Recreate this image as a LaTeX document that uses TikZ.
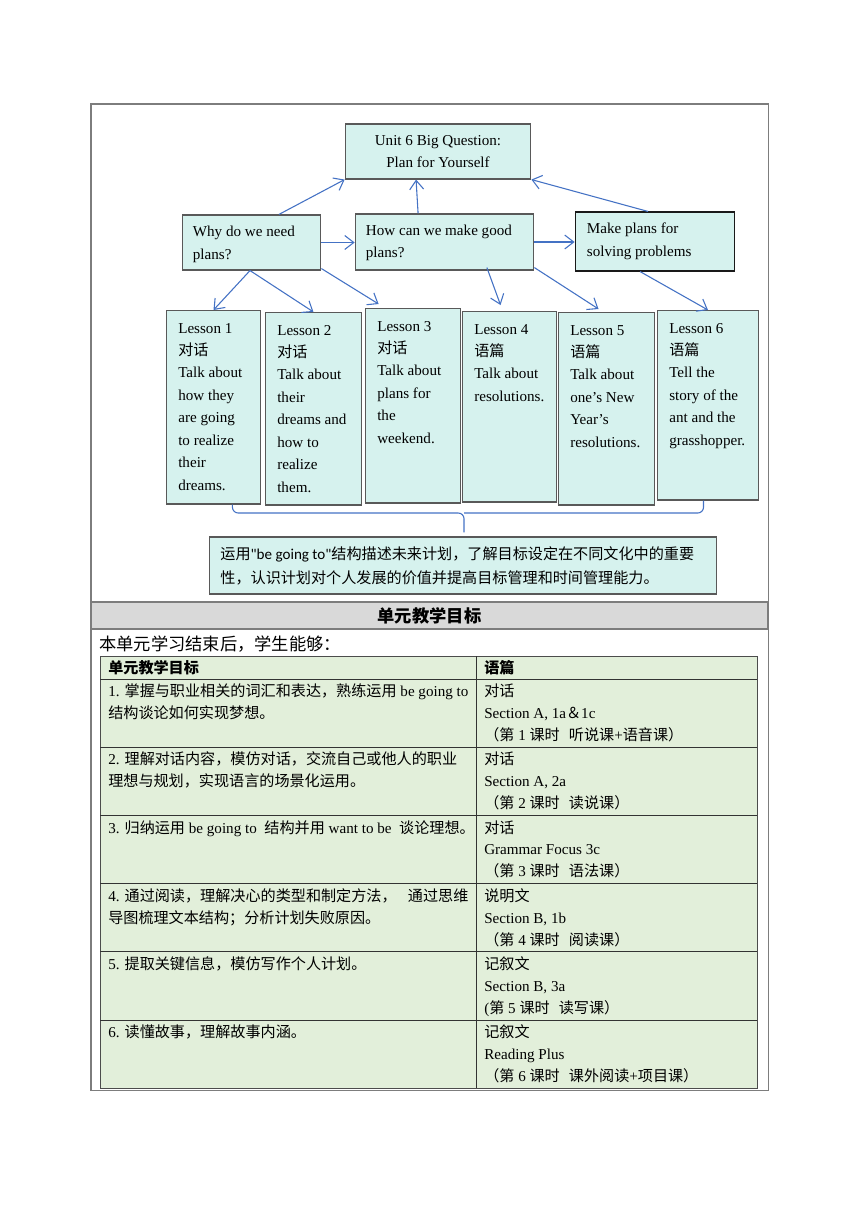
\documentclass[tikz,border=0pt]{standalone}
\usepackage{fontspec}
\setmainfont{Liberation Serif}
\newfontfamily\zhfont{Noto Sans CJK SC}
\newfontfamily\carlito{Carlito}
\newcommand\zh[1]{{\zhfont #1}}
\usetikzlibrary{arrows.meta,calc}
\newdimen\px \px=0.6926pt
\definecolor{sky}{RGB}{214,242,238}
\definecolor{link}{RGB}{68,114,196}
\definecolor{sage}{RGB}{226,239,218}
\definecolor{band}{RGB}{217,217,217}
\definecolor{rim}{RGB}{125,125,125}
\tikzset{
  >={Straight Barb[length=2.2mm,width=3.4mm]},
  box/.style={draw=#1,fill=sky,line width=0.9pt,inner sep=0pt},
  box/.default=black!65,
  flow/.style={->,draw=link,line width=0.75pt},
  bracket/.style={draw=link,line width=0.75pt,rounded corners=4pt},
  tag/.style={anchor=north west,inner sep=0pt,align=left,font=\fontsize{10.5}{15.6}\selectfont},
  cell/.style={anchor=north west,inner sep=0pt,align=left,font=\fontsize{10.5}{15.24}\selectfont},
}

\begin{document}
\begin{tikzpicture}[x=0.2442mm,y=-0.2442mm]
  \useasboundingbox (0,0) rectangle (860,1216);
  \draw[rim,line width=0.7pt] (91,104) rectangle (768,1090);

  % question map
  \node[box,minimum width=186\px,minimum height=55\px,align=center,
    font=\fontsize{10.5}{15.24}\selectfont] (big) at (438,151.5) {Unit 6 Big Question:\\Plan for Yourself};
  \node[box,minimum width=139\px,minimum height=55\px] (why) at (251.5,242.5) {};
  \node[box,minimum width=179\px,minimum height=56\px] (how) at (444.5,242) {};
  \node[box=black!90,minimum width=160\px,minimum height=59\px] (make) at (655,241.5) {};
  \node[tag,anchor=west] (whyt) at ([shift={(11,2)}]why.west) {Why do we need\\plans?};
  \node[tag,anchor=west,font=\fontsize{10.5}{15.24}\selectfont] (howt) at ([shift={(11,1)}]how.west) {How can we make good\\plans?};
  \node[tag,anchor=west] (maket) at ([shift={(12,0)}]make.west) {Make plans for\\solving problems};

  \foreach \x/\y/\w/\h/\t [count=\i] in {
    166/310/94/194/{Lesson 1\\\zh{对话}\\Talk about\\how they\\are going\\to realize\\their\\dreams.},
    265/312/96/193/{Lesson 2\\\zh{对话}\\Talk about\\their\\dreams and\\how to\\realize\\them.},
    365/308/95/195/{Lesson 3\\\zh{对话}\\Talk about\\plans for\\the\\weekend.},
    462/311/94/191/{Lesson 4\\\zh{语篇}\\Talk about\\resolutions.},
    558/312/96/193/{Lesson 5\\\zh{语篇}\\Talk about\\one’s New\\Year’s\\resolutions.},
    657/310/101/190/{Lesson 6\\\zh{语篇}\\Tell the\\story of the\\ant and the\\grasshopper.}}{
    \node[box,anchor=north west,minimum width=\w\px,minimum height=\h\px] (l\i) at (\x,\y) {};
    \node[tag] (t\i) at ([shift={(12,7)}]l\i.north west) {\strut\t};
  }

  \draw[flow] ([xshift=27.5\px]why.north) -- (big.south west);
  \draw[flow] ([xshift=-26.5\px]how.north) -- ([xshift=-22\px]big.south);
  \draw[flow] ([xshift=-7\px]make.north) -- (big.south east);
  \draw[flow] (why.east) -- (why.east -| how.west);
  \draw[flow] (how.east) -- (how.east -| make.west);
  \draw[flow] ([xshift=-1.5\px]why.south) -- (l1.north);
  \draw[flow] ([xshift=-1.5\px]why.south) -- (l2.north);
  \draw[flow] ([yshift=2\px]why.south east) -- ([xshift=-34.5\px,yshift=4\px]l3.north);
  \draw[flow] ([xshift=42.5\px,yshift=3\px]how.south) -- ([xshift=-9\px,yshift=6\px]l4.north);
  \draw[flow] ([yshift=3\px]how.south east) -- ([xshift=-8\px,yshift=3\px]l5.north);
  \draw[flow] ([xshift=-15\px]make.south) -- (l6.north);

  \node[box,minimum width=508\px,minimum height=57\px] (goal) at (463,565.5) {};
  \node[tag,anchor=west,font=\fontsize{10.5}{16.6}\selectfont] (goalt) at ([xshift=11\px]goal.west)
    {\zh{运用}{\carlito"be going to"}\zh{结构描述未来计划，了解目标设定在不同文化中的重要}\\
     \zh{性，认识计划对个人发展的价值并提高目标管理和时间管理能力。}};
  \coordinate (mid) at (464,513);
  \draw[bracket] ([xshift=19\px]l1.south) |- (mid) -- ([yshift=4\px]goal.north -| mid);
  \draw[bracket] ([xshift=-4.5\px]l6.south) |- (mid);

  % objectives table
  \filldraw[fill=band,draw=rim,line width=0.8pt] (91,602) rectangle (768,629);
  \node[font=\fontsize{12}{14}\selectfont\zhfont\bfseries] (head) at (429.5,616) {单元教学目标};
  \node[anchor=west,inner sep=0pt,font=\fontsize{12}{14}\selectfont\zhfont] (lead) at (99,644) {本单元学习结束后，学生能够：};
  \filldraw[fill=sage,draw=black!70,line width=0.6pt] (100,656) rectangle (757,1088);
  \foreach \k in {0,...,5}
    \draw[black!80,line width=0.6pt] (100,{679+68.2*\k}) -- (757,{679+68.2*\k});
  \draw[black!80,line width=0.6pt] (476,656) -- (476,1088);
  \node[anchor=west,inner sep=0pt,font=\fontsize{10.5}{12}\selectfont\zhfont\bfseries] (c1) at (108,668) {单元教学目标};
  \node[anchor=west,inner sep=0pt,font=\fontsize{10.5}{12}\selectfont\zhfont\bfseries] (c2) at (484,668) {语篇};

  \foreach \a/\b [count=\i] in {
    {1. \zh{掌握与职业相关的词汇和表达，熟练运用} be going to\\\zh{结构谈论如何实现梦想。}}/{\zh{对话}\\Section A, 1a\zh{＆}1c\\\zh{（第} 1 \zh{课时}\hspace{0.6em}\zh{听说课}+\zh{语音课）}},
    {2. \zh{理解对话内容，模仿对话，交流自己或他人的职业}\\\zh{理想与规划，实现语言的场景化运用。}}/{\zh{对话}\\Section A, 2a\\\zh{（第} 2 \zh{课时}\hspace{0.6em}\zh{读说课）}},
    {3. \zh{归纳运用} be going to\ \ \zh{结构并用} want to be\ \ \zh{谈论理想。}}/{\zh{对话}\\Grammar Focus 3c\\\zh{（第} 3 \zh{课时}\hspace{0.6em}\zh{语法课）}},
    {4. \zh{通过阅读，理解决心的类型和制定方法，}\ \ \ \zh{通过思维}\\\zh{导图梳理文本结构；分析计划失败原因。}}/{\zh{说明文}\\Section B, 1b\\\zh{（第} 4 \zh{课时}\hspace{0.6em}\zh{阅读课）}},
    {5. \zh{提取关键信息，模仿写作个人计划。}}/{\zh{记叙文}\\Section B, 3a\\(\zh{第} 5 \zh{课时}\hspace{0.6em}\zh{读写课）}},
    {6. \zh{读懂故事，理解故事内涵。}}/{\zh{记叙文}\\Reading Plus\\\zh{（第} 6 \zh{课时}\hspace{0.6em}\zh{课外阅读}+\zh{项目课）}}}{
    \node[cell] (a\i) at (108,{681+68.2*(\i-1)}) {\strut\a};
    \node[cell] (b\i) at (484,{681+68.2*(\i-1)}) {\strut\b};
  }
\end{tikzpicture}
\end{document}
